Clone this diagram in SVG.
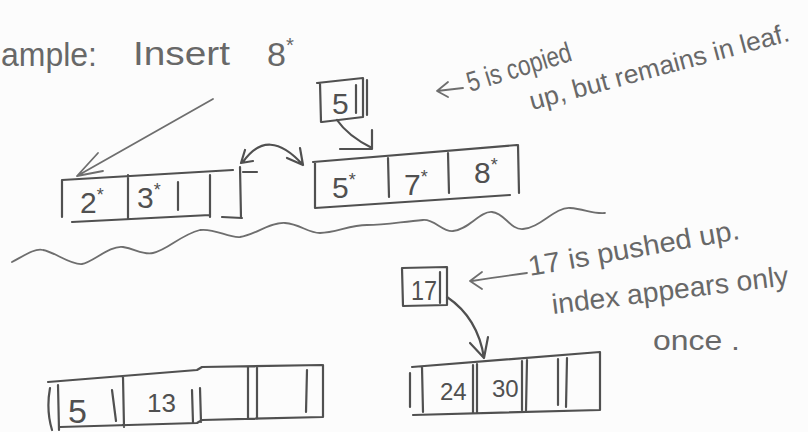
<svg xmlns="http://www.w3.org/2000/svg" width="808" height="432" viewBox="0 0 808 432">
  <defs>
    <style>
      .ink{fill:none;stroke:#505050;stroke-width:2.2;stroke-linecap:round;stroke-linejoin:round}
      .pen{fill:none;stroke:#6e6e6e;stroke-width:1.8;stroke-linecap:round;stroke-linejoin:round}
      .t{font-family:"Liberation Sans","DejaVu Sans",sans-serif;fill:#505050}
      .note{font-family:"Liberation Sans","DejaVu Sans",sans-serif;fill:#686868}
      .sup{font-size:60%}
    </style>
  </defs>
  <rect width="808" height="432" fill="#fcfcfc"/>

  <!-- heading -->
  <g id="heading">
    <text class="note" x="1" y="66" font-size="34" textLength="96" lengthAdjust="spacingAndGlyphs">ample:</text>
    <text class="note" x="133" y="65" font-size="34" textLength="97" lengthAdjust="spacingAndGlyphs">Insert</text>
    <text class="note" x="267" y="66" font-size="34">8<tspan class="sup" dy="-14">*</tspan></text>
  </g>

  <!-- index entry 5 (copied up) -->
  <g id="index-5">
    <path class="ink" d="M317,83 L363,78 L363,117 L322,122 M320,83 L321,122 M356,85 L356,113 M367,80 L367,115"/>
    <text class="t" x="332" y="114" font-size="30">5</text>
  </g>

  <!-- left leaf after split -->
  <g id="leaf-2-3">
    <path class="ink" d="M62,180 L233,170 M243,172 L257,172 M62,180 L62,217 M72,222 L210,215 M128,175 L128,218 M178,182 L178,210 M210,175 L210,217 M240,167 L241,218 M222,217 L242,218"/>
    <text class="t" x="80" y="213" font-size="30">2<tspan class="sup" dy="-12">*</tspan></text>
    <text class="t" x="137" y="208" font-size="30">3<tspan class="sup" dy="-12">*</tspan></text>
  </g>

  <!-- right leaf after split -->
  <g id="leaf-5-7-8">
    <path class="ink" d="M313,162 L517,145 M315,162 L315,208 M315,208 L510,195 M518,145 L519,193 M388,158 L389,197 M448,153 L449,193"/>
    <text class="t" x="332" y="198" font-size="30">5<tspan class="sup" dy="-12">*</tspan></text>
    <text class="t" x="404" y="195" font-size="30">7<tspan class="sup" dy="-12">*</tspan></text>
    <text class="t" x="474" y="183" font-size="30">8<tspan class="sup" dy="-12">*</tspan></text>
  </g>

  <!-- index entry 17 (pushed up) -->
  <g id="index-17">
    <path class="ink" d="M402,268 L447,267 L447,305 L403,306 Z M440,272 L440,303"/>
    <text class="t" x="411" y="300" font-size="28" textLength="26" lengthAdjust="spacingAndGlyphs">17</text>
  </g>

  <!-- lower leaf level -->
  <g id="node-5-13">
    <path class="ink" d="M48,382 L197,370 L202,367 L322,365 M60,427 L197,423 L202,420 L323,417 M50,388 Q46,410 52,430 M58,385 L59,430 M112,390 L116,421 M123,377 L124,427 M192,390 L193,423 M200,388 L201,422 M248,367 L248,419 M257,367 L257,419 M307,370 L306,412 M323,365 L323,417"/>
    <text class="t" x="68" y="423" font-size="34">5</text>
    <text class="t" x="147" y="412" font-size="26">13</text>
  </g>

  <g id="node-24-30">
    <path class="ink" d="M412,367 L600,352 M413,415 L600,410 M410,373 L410,407 M422,367 L423,412 M473,365 L473,413 M477,364 L477,413 M522,361 L522,410 M527,360 L526,410 M558,359 L558,405 M567,358 L566,407 M600,352 L600,410"/>
    <text class="t" x="440" y="400" font-size="24">24</text>
    <text class="t" x="492" y="397" font-size="24">30</text>
  </g>

  <!-- connectors -->
  <g id="connectors">
    <path class="pen" d="M213,99 L77,176 M98,153 L77,176 L103,171"/>
    <path class="ink" d="M243,162 Q268,126 303,165 M300,148 L303,165 L287,158 M245,150 L241,163 L253,161"/>
    <path class="ink" d="M337,120 Q348,136 372,148 M372,130 L372,149 L340,149"/>
    <path class="ink" d="M447,297 Q478,318 484,358 M470,343 L484,358 L488,337"/>
  </g>

  <!-- level separator -->
  <path id="separator" class="pen" d="M12,262 C25,255 35,248 43,250 C55,252 70,265 82,264 C92,263 110,245 123,247 C136,249 142,255 153,253 C168,250 180,235 200,230 C215,228 228,238 240,237 C255,235 270,222 285,223 C300,224 308,233 320,233 C335,233 350,225 367,225 C385,225 400,222 423,220 C435,219 442,232 453,231 C468,230 480,211 492,212 C505,213 510,230 523,229 C540,228 555,207 570,208 C585,209 592,214 605,213"/>

  <!-- notes -->
  <g id="note-copied">
    <path class="pen" d="M463,88 L437,91 M448,82 L437,91 L448,97"/>
    <text class="note" x="470" y="92" font-size="28" transform="rotate(-17 470 92)" textLength="108" lengthAdjust="spacingAndGlyphs">5 is copied</text>
    <text class="note" x="532" y="110" font-size="26" transform="rotate(-15 532 110)" textLength="268" lengthAdjust="spacingAndGlyphs">up, but remains in leaf.</text>
  </g>

  <g id="note-pushed">
    <path class="pen" d="M527,273 Q505,276 472,281 M482,272 L470,281 L482,289"/>
    <text class="note" x="530" y="276" font-size="28" transform="rotate(-10 530 276)" textLength="214" lengthAdjust="spacingAndGlyphs">17 is pushed up.</text>
    <text class="note" x="553" y="314" font-size="28" transform="rotate(-7 553 314)" textLength="238" lengthAdjust="spacingAndGlyphs">index appears only</text>
    <text class="note" x="653" y="350" font-size="28" textLength="87" lengthAdjust="spacingAndGlyphs">once .</text>
  </g>
</svg>
